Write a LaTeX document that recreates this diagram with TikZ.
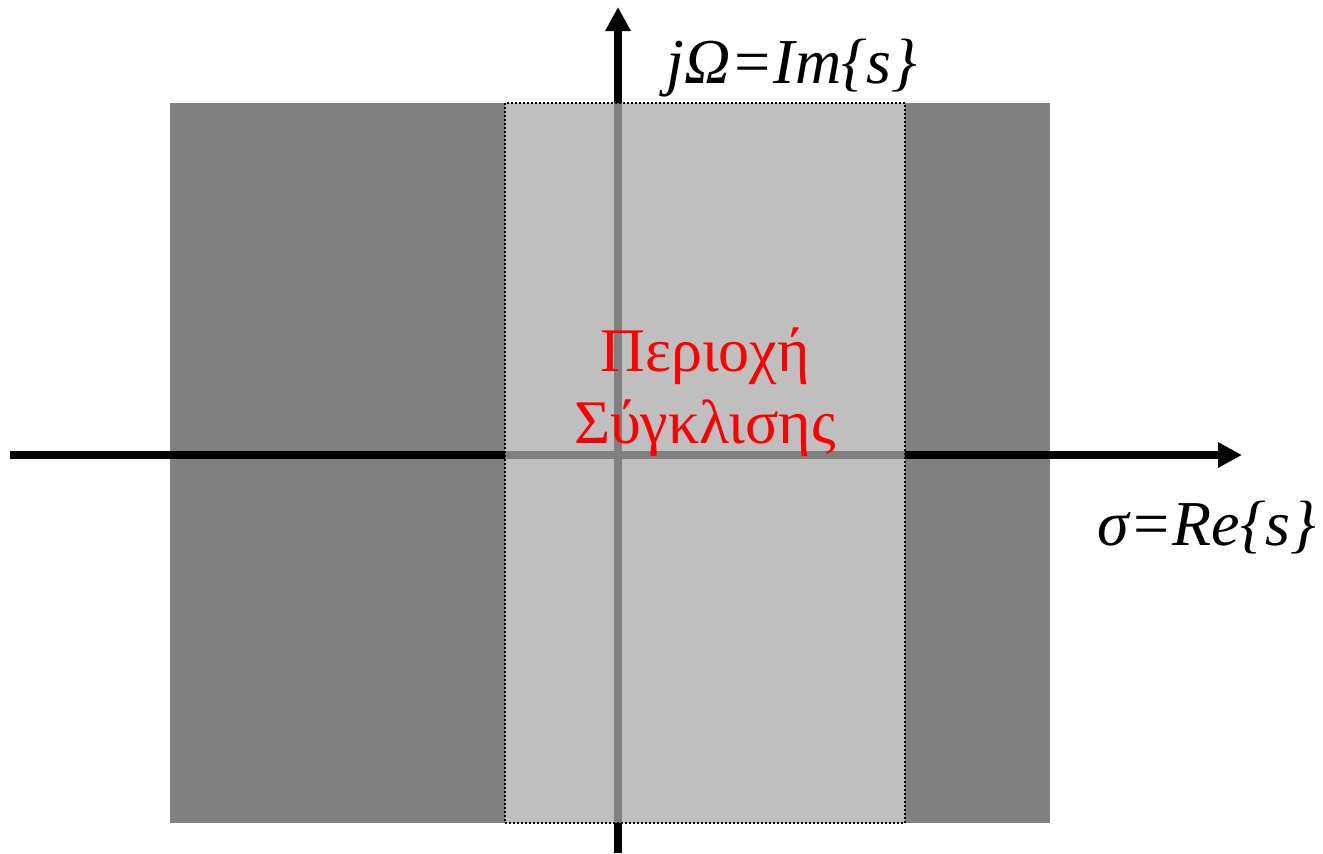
\documentclass[tikz,border=0pt]{standalone}
\usepackage{fontspec}
\setmainfont{Liberation Serif}
\usetikzlibrary{arrows.meta}
\tikzset{
  >={Triangle[length=12pt,width=12pt]},
  axis/.style={line width=4pt, ->},
  halfplane/.style={fill=gray},
  roc/.style={fill=white, fill opacity=0.5, draw=black, line width=1pt,
    dash pattern=on 1pt off 1pt},
  axlabel/.style={font=\fontsize{32}{38}\selectfont\itshape, inner sep=0pt,
    anchor=base},
  roclabel/.style={font=\fontsize{31}{36}\selectfont, text=red, align=center},
}

\begin{document}
\begin{tikzpicture}[x=0.5pt, y=-0.5pt]
  \useasboundingbox (0,0) rectangle (1323,853);
  % s-plane
  \fill[halfplane] (170,103) rectangle (1050,823);
  \coordinate (reL) at (10,455);
  \coordinate (reR) at (1242,455);
  \coordinate (imB) at (618,853);
  \coordinate (imT) at (618,7);
  \draw[axis] (reL) -- (reR);
  \draw[axis] (imB) -- (imT);
  % region of convergence
  \draw[roc] (505,103) rectangle (905,823);
  \node[roclabel] (roc) at (705,392) {Περιοχή\\Σύγκλισης};
  \node[axlabel] (im) at (792,83) {jΩ=Im\{s\}};
  \node[axlabel] (re) at (1207,545) {σ=Re\{s\}};
\end{tikzpicture}
\end{document}
